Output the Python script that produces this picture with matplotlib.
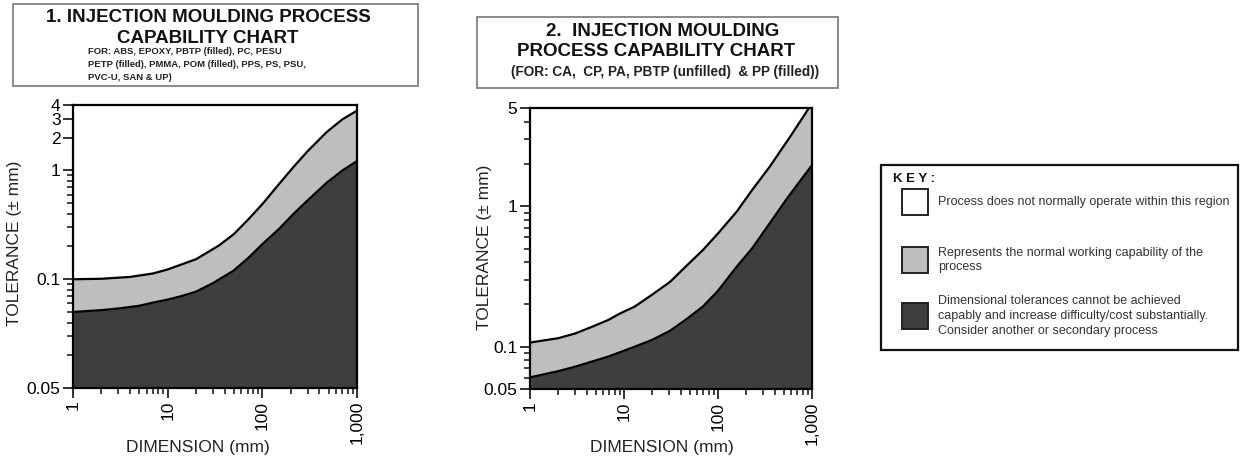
import matplotlib
matplotlib.use('Agg')
import matplotlib.pyplot as plt
from matplotlib.patches import Rectangle
from matplotlib.ticker import FixedLocator, FixedFormatter, NullFormatter

plt.rcParams['font.family'] = ['Liberation Sans', 'DejaVu Sans']

# chart 1 -- note its bottom tick is printed "0.05" but sits a full decade below 0.1
dim1_up = [1, 2, 4, 7, 10, 20, 35, 50, 70, 100, 150, 214, 300, 477, 700, 1000]
tol1_up = [0.1, 0.101, 0.105, 0.113, 0.123, 0.153, 0.205, 0.26, 0.35, 0.49,
           0.75, 1.08, 1.5, 2.25, 2.95, 3.55]
dim1_lo = [1, 2, 3.1, 5, 7, 10, 14, 20, 30, 49, 70, 100, 150, 214, 300, 477, 700, 1000]
tol1_lo = [0.05, 0.052, 0.054, 0.057, 0.061, 0.065, 0.07, 0.077, 0.092, 0.119,
           0.155, 0.21, 0.29, 0.40, 0.53, 0.77, 1.0, 1.22]

# chart 2
dim2_up = [1, 2, 3, 4.5, 6.8, 9, 13, 20, 31, 45, 69, 100, 158, 230, 355, 600, 1000]
tol2_up = [0.107, 0.115, 0.124, 0.138, 0.155, 0.172, 0.193, 0.235, 0.29, 0.37,
           0.487, 0.64, 0.914, 1.3, 1.91, 3.2, 5.4]
dim2_lo = [1, 2, 3, 6.8, 13, 20, 31, 45, 69, 100, 158, 230, 355, 550, 1000]
tol2_lo = [0.0605, 0.067, 0.072, 0.085, 0.1, 0.112, 0.13, 0.155, 0.193, 0.25,
           0.371, 0.5, 0.756, 1.15, 1.96]

x_ticks = [1, 10, 100, 1000]
x_labels = ['1', '10', '100', '1,000']

y1_ticks = [0.01, 0.1, 1, 2, 3, 4]
y1_labels = ['0.05', '0.1', '1', '2', '3', '4']
y1_minor = [0.02, 0.03, 0.04, 0.05, 0.06, 0.07, 0.08, 0.09,
            0.2, 0.3, 0.4, 0.5, 0.6, 0.7, 0.8, 0.9]

y2_ticks = [0.05, 0.1, 1, 5]
y2_labels = ['0.05', '0.1', '1', '5']
y2_minor = [0.06, 0.07, 0.08, 0.09, 0.2, 0.3, 0.4, 0.5, 0.6, 0.7, 0.8, 0.9, 2, 3, 4]

key_labels = ['Process does not normally operate within this region',
              'Represents the normal working capability of the\nprocess',
              'Dimensional tolerances cannot be achieved\ncapably and increase difficulty/cost substantially.\nConsider another or secondary process']

LIGHT = '#bebebe'
DARK = '#3e3e3e'
key_colors = ['white', LIGHT, DARK]

W, H = 1243, 465
def fx(x):
    return x / W
def fy(y):
    return 1 - y / H

fig = plt.figure(figsize=(W / 100, H / 100), dpi=100)


def draw_chart(rect, dup, tup, dlo, tlo, ylim, yt, ylab, ymin):
    ax = fig.add_axes(rect)
    ax.set_xscale('log')
    ax.set_yscale('log')
    ax.fill_between(dup, ylim[0] * 0.5, tup, color=LIGHT, lw=0)
    ax.fill_between(dlo, ylim[0] * 0.5, tlo, color=DARK, lw=0)
    ax.plot(dup, tup, 'k-', lw=1.6, solid_joinstyle='round')
    ax.plot(dlo, tlo, 'k-', lw=1.6, solid_joinstyle='round')
    ax.set_xlim(1, 1000)
    ax.set_ylim(*ylim)
    ax.xaxis.set_major_locator(FixedLocator(x_ticks))
    ax.xaxis.set_major_formatter(FixedFormatter(x_labels))
    ax.xaxis.set_minor_formatter(NullFormatter())
    ax.yaxis.set_major_locator(FixedLocator(yt))
    ax.yaxis.set_major_formatter(FixedFormatter(ylab))
    ax.yaxis.set_minor_locator(FixedLocator(ymin))
    ax.yaxis.set_minor_formatter(NullFormatter())
    for lab in ax.get_xticklabels():
        lab.set_rotation(90)
    ax.tick_params(which='major', direction='out', length=7, width=1.3,
                   labelsize=12.5, pad=2, color='#222')
    ax.tick_params(which='minor', direction='out', length=4, width=1.2, color='#222')
    for s in ax.spines.values():
        s.set_linewidth(1.6)
    return ax


ax1 = draw_chart([fx(73), fy(388), (357 - 73) / W, (388 - 105) / H],
                 dim1_up, tol1_up, dim1_lo, tol1_lo, (0.01, 4),
                 y1_ticks, y1_labels, y1_minor)
ax2 = draw_chart([fx(530), fy(389), (812 - 530) / W, (389 - 108) / H],
                 dim2_up, tol2_up, dim2_lo, tol2_lo, (0.05, 5),
                 y2_ticks, y2_labels, y2_minor)

# axis titles
for x, y in [(15, 243), (484, 247)]:
    fig.text(fx(x), fy(y), 'TOLERANCE (± mm)', rotation=90, ha='center', va='center',
             fontsize=12.5, color='#222')
for x in [198, 662]:
    fig.text(fx(x), fy(447), 'DIMENSION (mm)', ha='center', va='center',
             fontsize=12.5, color='#222')

# chart title boxes
fig.patches.append(Rectangle((fx(13), fy(86)), (418 - 13) / W, (86 - 4) / H,
                             transform=fig.transFigure, fill=False, ec='#777', lw=1.2))
fig.text(fx(208), fy(18), '1. INJECTION MOULDING PROCESS', ha='center', va='center',
         fontsize=13.5, fontweight='bold', color='#111')
fig.text(fx(208), fy(38), 'CAPABILITY CHART', ha='center', va='center',
         fontsize=13.5, fontweight='bold', color='#111')
for y, s in [(52, 'FOR: ABS, EPOXY, PBTP (filled), PC, PESU'),
             (64, 'PETP (filled), PMMA, POM (filled), PPS, PS, PSU,'),
             (77, 'PVC-U, SAN & UP)')]:
    fig.text(fx(88), fy(y), s, ha='left', va='center', fontsize=6.8,
             fontweight='bold', color='#222')

fig.patches.append(Rectangle((fx(477), fy(88)), (838 - 477) / W, (88 - 17) / H,
                             transform=fig.transFigure, fill=False, ec='#777', lw=1.2))
fig.text(fx(663), fy(32), '2.  INJECTION MOULDING', ha='center', va='center',
         fontsize=13.5, fontweight='bold', color='#111')
fig.text(fx(656), fy(51), 'PROCESS CAPABILITY CHART', ha='center', va='center',
         fontsize=13.5, fontweight='bold', color='#111')
fig.text(fx(665), fy(72), '(FOR: CA,  CP, PA, PBTP (unfilled)  & PP (filled))',
         ha='center', va='center', fontsize=9.8, fontweight='bold', color='#222')

# key box
fig.patches.append(Rectangle((fx(881), fy(350)), (1238 - 881) / W, (350 - 165) / H,
                             transform=fig.transFigure, fill=False, ec='#111', lw=1.6))
fig.text(fx(893), fy(179), 'K E Y :', ha='left', va='center', fontsize=9.5,
         fontweight='bold', color='#111')
for yc, col, lab in zip([202, 260, 316], key_colors, key_labels):
    fig.patches.append(Rectangle((fx(902), fy(yc + 13)), 26 / W, 26 / H,
                                 transform=fig.transFigure, fc=col, ec='#222', lw=1.4))
    fig.text(fx(938), fy(yc), lab, ha='left', va='center', fontsize=9,
             color='#333', linespacing=1.3)

fig.savefig('out.png', dpi=100)
